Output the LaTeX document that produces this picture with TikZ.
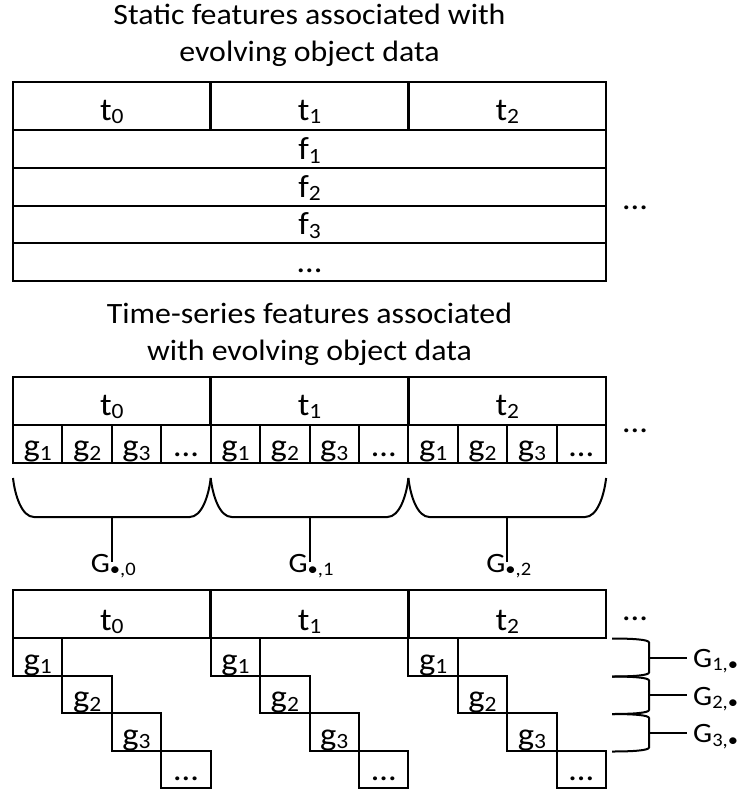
\documentclass[tikz,border=0pt]{standalone}
\usepackage{fontspec}
\setmainfont{Carlito}[FakeStretch=1.08]
\usepackage{graphicx}
\newcommand\sbs[1]{\raisebox{-0.12em}{\scalebox{0.68}{#1}}}
\begin{document}
\begin{tikzpicture}[x=1pt,y=-1pt,
  hdrbox/.style={draw, line width=2.6pt},
  ln/.style={line width=2pt},
  ttl/.style={font=\fontsize{29.5}{34}\selectfont, inner sep=0pt, anchor=base},
  lbl/.style={font=\fontsize{32}{34}\selectfont, inner sep=0pt, anchor=base},
  glbl/.style={font=\fontsize{28}{30}\selectfont, inner sep=0pt, anchor=base}]
\useasboundingbox (0,0) rectangle (740,792);

% ---------- top section ----------
\node[ttl] (title1a) at (309.5,25) {Static features associated with};
\node[ttl] (title1b) at (309.5,62) {evolving object data};

\foreach \a/\b/\t [count=\i] in {130/168/f\sbs{1}, 168/205.5/f\sbs{2}, 205.5/243/f\sbs{3}, 243/281/…}{
  \draw[ln] (13,\a) rectangle (606.1,\b);
  \node[lbl] (f\i) at (309.5,\b-8.5) {\t};
}
\foreach \k in {0,1,2}{
  \pgfmathsetmacro\xa{13+\k*197.7}
  \draw[hdrbox] (\xa,82) rectangle ++(197.7,48);
  \node[lbl] (ta\k) at (\xa+98.85,120) {t\sbs{\k}};
}
\node[lbl] (dotsA) at (635,209) {…};

% ---------- middle section ----------
\node[ttl] (title2a) at (309.5,323) {Time-series features associated};
\node[ttl] (title2b) at (309.5,360) {with evolving object data};

\foreach \k in {0,1,2}{
  \pgfmathsetmacro\xa{13+\k*197.7}
  \pgfmathsetmacro\xb{\xa+197.7}
  \pgfmathsetmacro\xm{\xa+98.85}
  \foreach \j/\t in {0/g\sbs{1},1/g\sbs{2},2/g\sbs{3},3/…}{
    \draw[ln] (\xa+\j*49.425,425) rectangle ++(49.425,38);
    \node[lbl] (gm\k\j) at (\xa+\j*49.425+24.71,456.5) {\t};
  }
  \draw[hdrbox] (\xa,377) rectangle ++(197.7,48);
  \node[lbl] (tb\k) at (\xm,415) {t\sbs{\k}};
  % brace
  \draw[ln] (\xa,478) .. controls (\xa+2,496) and (\xa+9,517) .. (\xa+21,517)
     -- (\xb-21,517) .. controls (\xb-9,517) and (\xb-2,496) .. (\xb,478);
  \coordinate (bs\k) at (\xm,517);
  \coordinate (be\k) at (\xm,562);
  \draw[ln] (bs\k) -- (be\k);
  \node[glbl] (Gc\k) at (\xm+1.5,572) {G\sbs{\textbullet,\k}};
}
\node[lbl] (dotsB) at (635,432) {…};

% ---------- bottom section ----------
\foreach \k in {0,1,2}{
  \pgfmathsetmacro\xa{13+\k*197.7}
  \foreach \j/\t/\o in {0/g\sbs{1}/5.5,1/g\sbs{2}/5.5,2/g\sbs{3}/5.5,3/…/8}{
    \draw[ln] (\xa+\j*49.425,638+\j*37.5) rectangle ++(49.425,37.5);
    \node[lbl] (gs\k\j) at (\xa+\j*49.425+24.71,638+\j*37.5+37.5-\o) {\t};
  }
  \draw[hdrbox] (\xa,590) rectangle ++(197.7,48);
  \node[lbl] (tc\k) at (\xa+98.85,630) {t\sbs{\k}};
}
\node[lbl] (dotsC) at (635,620) {…};

\foreach \i/\ya/\yb in {1/638.5/676.5, 2/676.5/714, 3/714/751.5}{
  \pgfmathsetmacro\ym{(\ya+\yb)/2}
  \draw[ln] (612,\ya) .. controls (632,\ya) and (649,\ya+1) .. (649,\ya+4)
     -- (649,\yb-4) .. controls (649,\yb-1) and (632,\yb) .. (612,\yb);
  \coordinate (rs\i) at (649,\ym);
  \coordinate (re\i) at (687,\ym);
  \draw[ln] (rs\i) -- (re\i);
  \node[glbl, anchor=base west] (Gr\i) at (693,\ym+10) {G\sbs{\i,\textbullet}};
}
\end{tikzpicture}
\end{document}
